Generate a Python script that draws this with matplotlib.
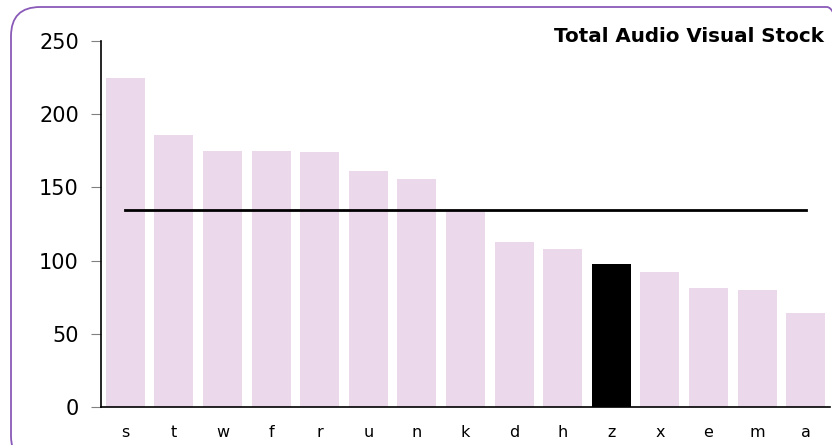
import numpy as np
import matplotlib.pyplot as plt
from matplotlib.patches import FancyBboxPatch

# stock per branch, sorted high to low
branches = ['s', 't', 'w', 'f', 'r', 'u', 'n', 'k', 'd', 'h', 'z', 'x', 'e', 'm', 'a']
stock = [225, 186, 175, 175, 174, 161, 156, 134, 113, 108, 98, 92, 81, 80, 64]
highlight = 'z'
yticks = [0, 50, 100, 150, 200, 250]

pale = '#ebd9eb'
colours = ['black' if b == highlight else pale for b in branches]

fig = plt.figure(figsize=(8.32, 4.45), dpi=100)
ax = fig.add_axes([101 / 832, 38 / 445, 729 / 832, 366 / 445])

x = np.arange(len(branches))
ax.bar(x, stock, width=0.8, color=colours, zorder=2)

# average across all branches
avg = np.mean(stock)
ax.plot([x[0], x[-1]], [avg, avg], color='black', lw=2, zorder=3)

ax.set_xlim(-0.5, len(branches) - 0.5)
ax.set_ylim(0, 250)
ax.set_yticks(yticks)
ax.set_xticks(x)
ax.set_xticklabels(branches, fontsize=11.5)
ax.tick_params(axis='x', length=0, pad=13)
ax.tick_params(axis='y', length=7, color='#808080', labelsize=15, pad=9)

for side in ['top', 'right']:
    ax.spines[side].set_visible(False)
for side in ['left', 'bottom']:
    ax.spines[side].set_color('black')
    ax.spines[side].set_linewidth(1.2)

fig.text(824 / 832, 1 - 36 / 445, 'Total Audio Visual Stock', ha='right', va='center',
         fontsize=14.3, fontweight='bold')

# rounded purple frame
frame = FancyBboxPatch((11 / 832, -20 / 445), 845 / 832, 458 / 445,
                       boxstyle='round,pad=0,rounding_size=0.035',
                       transform=fig.transFigure, fill=False,
                       edgecolor='#8a5ab8', lw=1.3, mutation_aspect=832 / 445)
fig.patches.append(frame)

fig.savefig('out.png', dpi=100)
